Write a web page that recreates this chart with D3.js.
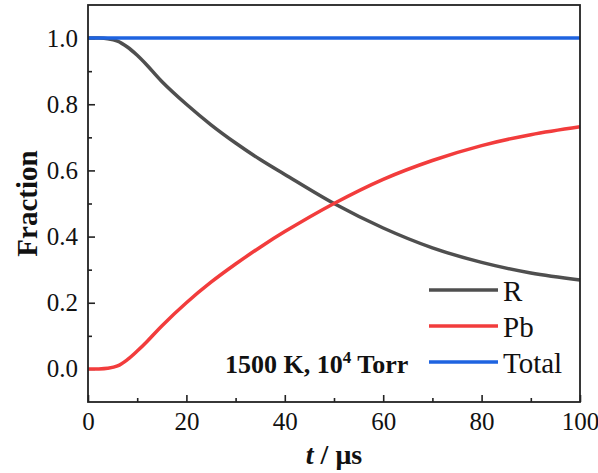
<!DOCTYPE html>
<html>
<head>
<meta charset="utf-8">
<script src="https://cdn.jsdelivr.net/npm/d3@7"></script>
<style>
    body { margin: 0; background: #fff; }
    text { font-family: "Liberation Serif", "Times New Roman", serif; fill: #111; }
</style>
</head>
<body>
<svg id="chart" width="598" height="473"></svg>
<script>
// time axis (µs)
const times = [0, 2, 4, 6, 8, 10, 12, 15, 20, 25, 30, 35, 40, 50, 60, 70, 80, 90, 100];
// fraction of R
const rValues = [1.0, 1.0, 0.998, 0.991, 0.973, 0.948, 0.918, 0.869, 0.8, 0.738, 0.683, 0.633, 0.588, 0.5, 0.426, 0.366, 0.322, 0.29, 0.269];
// fraction of Pb
const pbValues = [0.0, 0.0, 0.002, 0.009, 0.028, 0.054, 0.083, 0.13, 0.2, 0.262, 0.317, 0.368, 0.415, 0.5, 0.573, 0.63, 0.675, 0.708, 0.732];
// total
const totalTimes = [0, 100];
const totalValues = [1.0, 1.0];

const seriesNames = ["R", "Pb", "Total"];
const seriesColors = ["#4f4f4f", "#f23c3c", "#1e63e0"];

const xTicks = [0, 20, 40, 60, 80, 100];
const xMinor = [10, 30, 50, 70, 90];
const yTicks = [0.0, 0.2, 0.4, 0.6, 0.8, 1.0];
const yMinor = [0.1, 0.3, 0.5, 0.7, 0.9];

const svg = d3.select("#chart");
const margin = { top: 5, right: 18, bottom: 71, left: 88 },
    width = 598 - margin.left - margin.right,
    height = 473 - margin.top - margin.bottom;

const g = svg.append("g").attr("transform", `translate(${margin.left},${margin.top})`);

const x = d3.scaleLinear().domain([0, 100]).range([0, width]);
const y = d3.scaleLinear().domain([-0.1, 1.1]).range([height, 0]);

// axes, ticks pointing inward
g.append("g")
    .attr("transform", `translate(0,${height})`)
    .call(d3.axisBottom(x).tickValues(xTicks).tickSize(-7).tickPadding(10).tickFormat(d3.format("d")));
g.append("g")
    .attr("transform", `translate(0,${height})`)
    .call(d3.axisBottom(x).tickValues(xMinor).tickSize(-4).tickFormat(""));
g.append("g")
    .call(d3.axisLeft(y).tickValues(yTicks).tickSize(-7).tickPadding(10).tickFormat(d3.format(".1f")));
g.append("g")
    .call(d3.axisLeft(y).tickValues(yMinor).tickSize(-4).tickFormat(""));

g.selectAll(".domain").remove();
g.selectAll(".tick line").attr("stroke", "#222").attr("stroke-width", 1.6);
g.selectAll(".tick text").style("font-size", "25px").attr("fill", "#111");

// the lines
const line = d3.line()
    .x((d) => x(d[0]))
    .y((d) => y(d[1]))
    .curve(d3.curveCatmullRom.alpha(0.5));

const series = [
    d3.zip(times, rValues),
    d3.zip(times, pbValues),
    d3.zip(totalTimes, totalValues),
];

g.append("g")
    .selectAll("path")
    .data(series)
    .enter()
    .append("path")
    .attr("fill", "none")
    .attr("stroke", (d, i) => seriesColors[i])
    .attr("stroke-width", 3.5)
    .attr("d", line);

// frame
g.append("rect")
    .attr("width", width)
    .attr("height", height)
    .attr("fill", "none")
    .attr("stroke", "#222")
    .attr("stroke-width", 1.8);

// legend
const legend = g.append("g").attr("transform", "translate(341,285)");
seriesNames.forEach(function (name, i) {
    legend.append("line")
        .attr("x1", 0).attr("x2", 69)
        .attr("y1", i * 36).attr("y2", i * 36)
        .attr("stroke", seriesColors[i])
        .attr("stroke-width", 3.5);
    legend.append("text")
        .attr("x", 74)
        .attr("y", i * 36 + 11)
        .style("font-size", "29px")
        .text(name);
});

// condition label
const note = g.append("text")
    .attr("x", 137)
    .attr("y", 368)
    .style("font-size", "26px")
    .style("font-weight", "bold");
note.append("tspan").text("1500 K, 10");
note.append("tspan").attr("dy", -10).style("font-size", "17px").text("4");
note.append("tspan").attr("dy", 10).text(" Torr");

// axis titles
const xTitle = svg.append("text")
    .attr("x", margin.left + width / 2)
    .attr("y", 464)
    .attr("text-anchor", "middle")
    .style("font-size", "28px")
    .style("font-weight", "bold");
xTitle.append("tspan").style("font-style", "italic").text("t");
xTitle.append("tspan").text(" / μs");

svg.append("text")
    .attr("transform", `translate(37,${margin.top + height / 2}) rotate(-90)`)
    .attr("text-anchor", "middle")
    .style("font-size", "29px")
    .style("font-weight", "bold")
    .text("Fraction");
</script>
</body>
</html>
